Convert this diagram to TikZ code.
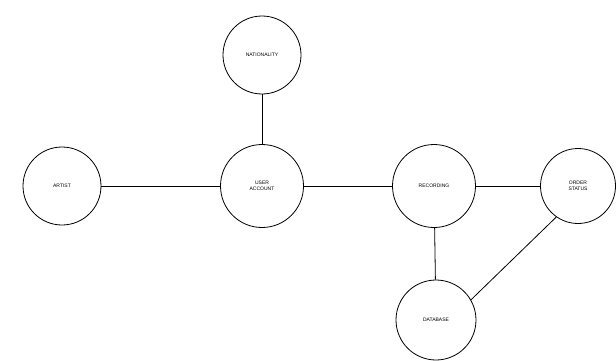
\documentclass[tikz,border=0pt]{standalone}
\usepackage{fontspec}
\setmainfont{Liberation Sans}
\tikzset{
  entity/.style={circle, draw, thick, fill=white, minimum size=78pt, inner sep=0pt,
    align=center, font=\fontsize{5}{5.5}\selectfont},
  link/.style={thick}
}
\begin{document}
\begin{tikzpicture}[x=1pt,y=1pt]
  \useasboundingbox (0,0) rectangle (616,360);
  \node[entity] (nat) at (262,305) {NATIONALITY};
  \node[entity] (art) at (62,174) {ARTIST};
  \node[entity, minimum size=83pt] (acc) at (262,174) {USER\\ACCOUNT};
  \node[entity, minimum size=83pt] (rec) at (434,174) {RECORDING};
  \node[entity, minimum size=75pt] (ord) at (578,174) {ORDER\\STATUS};
  \node[entity, minimum size=80pt] (db) at (436,40) {DATABASE};

  \draw[link] (art) -- (acc);
  \draw[link] (nat) -- (acc);
  \draw[link] (acc) -- (rec);
  \draw[link] (rec) -- (ord);
  \draw[link] (rec) -- (db);
  \draw[link] (db.30) -- (ord.235);
\end{tikzpicture}
\end{document}
